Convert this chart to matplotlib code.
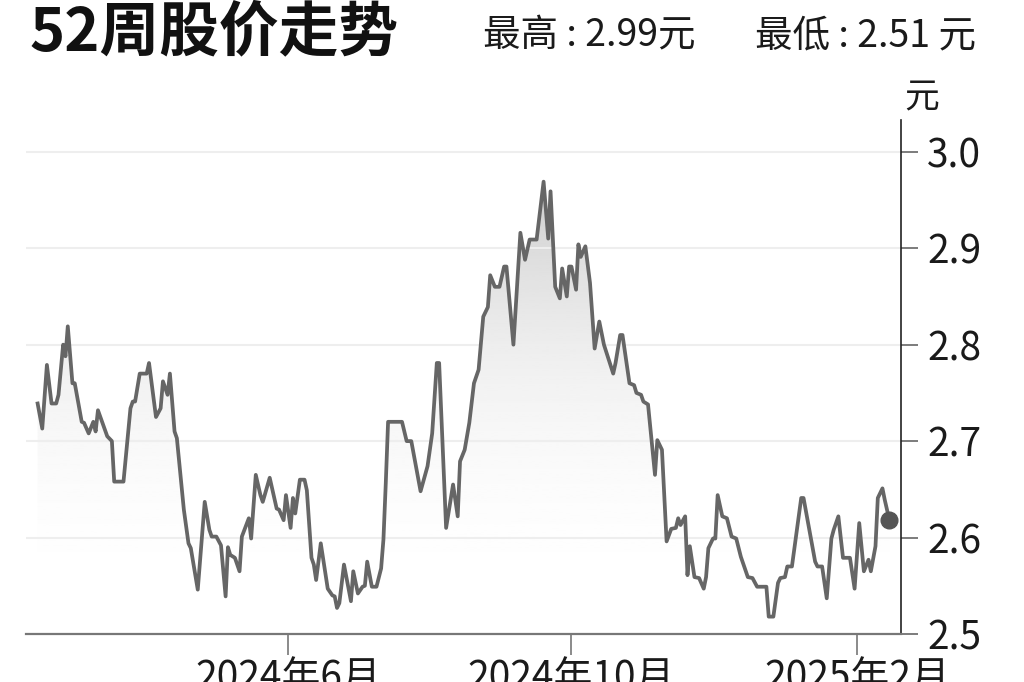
"""
52-week share price trend (52周股价走势), line with a grey gradient fill.
"""
import numpy as np
import pandas as pd
import matplotlib
matplotlib.use('Agg')
import matplotlib.pyplot as plt
import matplotlib.dates as mdates
from matplotlib.patches import PathPatch

plt.rcParams['font.family'] = ['Noto Sans CJK SC', 'DejaVu Sans']

# values
dates = [
    '2024-02-14', '2024-02-16', '2024-02-18', '2024-02-20', '2024-02-22', '2024-02-23',
    '2024-02-25', '2024-02-26', '2024-02-27', '2024-02-29', '2024-03-01', '2024-03-04',
    '2024-03-05', '2024-03-07', '2024-03-09', '2024-03-10', '2024-03-11', '2024-03-15',
    '2024-03-17', '2024-03-18', '2024-03-22', '2024-03-25', '2024-03-26', '2024-03-27',
    '2024-03-29', '2024-04-01', '2024-04-02', '2024-04-05', '2024-04-07', '2024-04-08',
    '2024-04-10', '2024-04-11', '2024-04-13', '2024-04-14', '2024-04-17', '2024-04-19',
    '2024-04-20', '2024-04-23', '2024-04-26', '2024-04-28', '2024-04-29', '2024-05-01',
    '2024-05-03', '2024-05-05', '2024-05-06', '2024-05-07', '2024-05-09', '2024-05-11',
    '2024-05-12', '2024-05-15', '2024-05-16', '2024-05-18', '2024-05-20', '2024-05-21',
    '2024-05-24', '2024-05-27', '2024-05-28', '2024-05-30', '2024-05-31', '2024-06-02',
    '2024-06-03', '2024-06-04', '2024-06-06', '2024-06-08', '2024-06-09', '2024-06-11',
    '2024-06-12', '2024-06-13', '2024-06-15', '2024-06-18', '2024-06-20', '2024-06-21',
    '2024-06-22', '2024-06-23', '2024-06-25', '2024-06-28', '2024-06-29', '2024-07-01',
    '2024-07-03', '2024-07-04', '2024-07-05', '2024-07-07', '2024-07-09', '2024-07-11',
    '2024-07-12', '2024-07-13', '2024-07-14', '2024-07-20', '2024-07-22', '2024-07-24',
    '2024-07-28', '2024-07-31', '2024-08-02', '2024-08-04', '2024-08-05', '2024-08-08',
    '2024-08-11', '2024-08-13', '2024-08-14', '2024-08-16', '2024-08-18', '2024-08-20',
    '2024-08-22', '2024-08-24', '2024-08-26', '2024-08-27', '2024-08-29', '2024-08-31',
    '2024-09-02', '2024-09-03', '2024-09-06', '2024-09-09', '2024-09-11', '2024-09-13',
    '2024-09-16', '2024-09-19', '2024-09-21', '2024-09-22', '2024-09-24', '2024-09-26',
    '2024-09-27', '2024-09-29', '2024-09-30', '2024-10-01', '2024-10-03', '2024-10-04',
    '2024-10-05', '2024-10-07', '2024-10-09', '2024-10-11', '2024-10-13', '2024-10-15',
    '2024-10-19', '2024-10-20', '2024-10-22', '2024-10-23', '2024-10-26', '2024-10-28',
    '2024-10-29', '2024-10-31', '2024-11-01', '2024-11-03', '2024-11-06', '2024-11-07',
    '2024-11-09', '2024-11-11', '2024-11-13', '2024-11-15', '2024-11-16', '2024-11-17',
    '2024-11-19', '2024-11-20', '2024-11-21', '2024-11-23', '2024-11-25', '2024-11-27',
    '2024-11-28', '2024-11-29', '2024-12-01', '2024-12-02', '2024-12-03', '2024-12-05',
    '2024-12-07', '2024-12-09', '2024-12-11', '2024-12-13', '2024-12-16', '2024-12-18',
    '2024-12-20', '2024-12-24', '2024-12-25', '2024-12-27', '2024-12-29', '2024-12-30',
    '2025-01-01', '2025-01-02', '2025-01-04', '2025-01-08', '2025-01-09', '2025-01-14',
    '2025-01-15', '2025-01-17', '2025-01-19', '2025-01-21', '2025-01-22', '2025-01-24',
    '2025-01-26', '2025-01-29', '2025-01-31', '2025-02-02', '2025-02-04', '2025-02-06',
    '2025-02-07', '2025-02-09', '2025-02-10', '2025-02-12', '2025-02-13', '2025-02-15',
]
prices = [
    2.739, 2.713, 2.779, 2.739, 2.739, 2.748, 2.800, 2.788, 2.819, 2.760, 2.760, 2.720,
    2.719, 2.708, 2.720, 2.710, 2.732, 2.705, 2.700, 2.658, 2.658, 2.734, 2.741, 2.741,
    2.770, 2.770, 2.781, 2.725, 2.734, 2.762, 2.748, 2.770, 2.710, 2.703, 2.629, 2.594,
    2.589, 2.546, 2.637, 2.608, 2.601, 2.601, 2.592, 2.539, 2.590, 2.582, 2.579, 2.565,
    2.601, 2.620, 2.599, 2.665, 2.644, 2.637, 2.662, 2.630, 2.629, 2.618, 2.644, 2.610,
    2.641, 2.625, 2.660, 2.660, 2.649, 2.579, 2.572, 2.556, 2.594, 2.547, 2.540, 2.539,
    2.527, 2.532, 2.572, 2.534, 2.565, 2.542, 2.549, 2.550, 2.575, 2.549, 2.549, 2.568,
    2.598, 2.656, 2.720, 2.720, 2.700, 2.700, 2.648, 2.674, 2.708, 2.781, 2.781, 2.610,
    2.655, 2.622, 2.679, 2.691, 2.719, 2.760, 2.774, 2.829, 2.839, 2.872, 2.860, 2.860,
    2.881, 2.881, 2.800, 2.916, 2.888, 2.909, 2.909, 2.969, 2.910, 2.959, 2.860, 2.848,
    2.879, 2.850, 2.881, 2.881, 2.857, 2.904, 2.891, 2.902, 2.864, 2.796, 2.824, 2.800,
    2.770, 2.781, 2.810, 2.810, 2.760, 2.758, 2.750, 2.748, 2.741, 2.738, 2.665, 2.701,
    2.691, 2.596, 2.609, 2.610, 2.620, 2.613, 2.622, 2.561, 2.591, 2.559, 2.558, 2.547,
    2.559, 2.589, 2.599, 2.599, 2.644, 2.622, 2.620, 2.601, 2.599, 2.580, 2.559, 2.558,
    2.549, 2.549, 2.518, 2.518, 2.553, 2.558, 2.559, 2.570, 2.570, 2.641, 2.641, 2.575,
    2.570, 2.570, 2.537, 2.599, 2.608, 2.622, 2.579, 2.579, 2.547, 2.615, 2.565, 2.577,
    2.565, 2.591, 2.641, 2.651, 2.639, 2.618,
]
tick_dates = ['2024-06-01', '2024-10-01', '2025-02-01']
tick_labels = ['2024年6月', '2024年10月', '2025年2月']
y_ticks = [2.5, 2.6, 2.7, 2.8, 2.9, 3.0]

x = pd.to_datetime(dates)
y = np.array(prices)

fig = plt.figure(figsize=(10.24, 6.82), dpi=100)
ax = fig.add_axes([0.0254, 0.0704, 0.8545, 0.7537])

x_min, x_max = pd.Timestamp('2024-02-09'), pd.Timestamp('2025-02-20')
y_min, y_max = 2.5, 3.033

# gradient fill under the line, clipped to the area polygon
area = ax.fill_between(x, y, y_min, facecolor='none', edgecolor='none')
t = np.linspace(0, 1, 256).reshape(-1, 1)
shade = 1 - 0.23 * t ** 2.3
grad = ax.imshow(shade, cmap='gray', vmin=0, vmax=1, origin='lower', aspect='auto',
                 extent=[mdates.date2num(x_min), mdates.date2num(x_max), 2.5, 3.0],
                 zorder=1)
clip = PathPatch(area.get_paths()[0], transform=ax.transData, facecolor='none', edgecolor='none')
ax.add_patch(clip)
grad.set_clip_path(clip)
ax.set_xlim(x_min, x_max)
ax.set_ylim(y_min, y_max)

ax.plot(x, y, color='#666666', lw=2.7, solid_joinstyle='round', zorder=3)
ax.plot(x[-1], y[-1], 'o', ms=12, color='#555555', zorder=4)

# axes styling
for side in ['left', 'top']:
    ax.spines[side].set_visible(False)
ax.spines['right'].set_color('#222222')
ax.spines['right'].set_linewidth(1.2)
ax.spines['bottom'].set_color('#777777')
ax.spines['bottom'].set_linewidth(1.6)

ax.yaxis.tick_right()
ax.set_yticks(y_ticks)
ax.set_yticklabels([f'{v:.1f}' for v in y_ticks])
ax.tick_params(axis='y', length=12, width=1.2, color='#666666', pad=7,
               labelsize=28, labelcolor='#1a1a1a')
ax.grid(axis='y', color='#eeeeee', lw=1.5, zorder=0)

ax.set_xticks(pd.to_datetime(tick_dates))
ax.set_xticklabels(tick_labels)
ax.tick_params(axis='x', length=15, width=1.2, color='#777777', pad=3,
               labelsize=28, labelcolor='#1a1a1a')

fig.text(0.029, 0.951, '52周股价走势', fontsize=43, fontweight='bold',
         ha='left', va='center', color='#111111')
fig.text(0.4717, 0.947, '最高 : 2.99元', fontsize=27, ha='left', va='center', color='#1a1a1a')
fig.text(0.737, 0.947, '最低 : 2.51 元', fontsize=27, ha='left', va='center', color='#1a1a1a')
fig.text(0.9004, 0.856, '元', fontsize=25, ha='center', va='center', color='#1a1a1a')

fig.savefig('out.png', dpi=100)
